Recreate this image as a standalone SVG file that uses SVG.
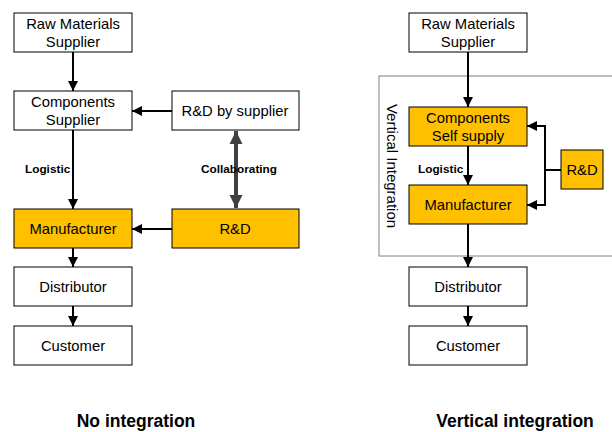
<svg xmlns="http://www.w3.org/2000/svg" width="612" height="432" viewBox="0 0 612 432">
<style>
.box{stroke:#000;stroke-width:1}
.w{fill:#fff}
.o{fill:#FFC000}
text{font-family:"Liberation Sans",Arial,sans-serif;fill:#000}
.t{font-size:14.8px;text-anchor:middle}
.lbl{font-size:11.8px;font-weight:bold}
.title{font-size:17.5px;font-weight:bold;text-anchor:middle}
.c{stroke:#000;stroke-width:2;fill:none}
</style>
<defs>
<marker id="ah" viewBox="0 0 10 10" refX="10" refY="5" markerWidth="10" markerHeight="10" markerUnits="userSpaceOnUse" orient="auto">
<path d="M0,0 L10,5 L0,10 Z" fill="#000"/>
</marker>
<marker id="gh" viewBox="0 0 10 10" refX="10" refY="5" markerWidth="13" markerHeight="14" markerUnits="userSpaceOnUse" orient="auto-start-reverse">
<path d="M0,0 L10,5 L0,10 Z" fill="#404040"/>
</marker>
</defs>

<rect id="vi-frame" x="379" y="76" width="240" height="180" fill="#fff" stroke="#808080" stroke-width="1"/>
<text class="t" transform="translate(387,166) rotate(90)" style="font-size:15px">Vertical Integration</text>

<g id="connectors">
<line class="c" x1="73" y1="52" x2="73" y2="91" marker-end="url(#ah)"/>
<line class="c" x1="73" y1="130" x2="73" y2="209" marker-end="url(#ah)"/>
<line class="c" x1="172" y1="111" x2="132" y2="111" marker-end="url(#ah)"/>
<line class="c" x1="172" y1="229" x2="132" y2="229" marker-end="url(#ah)"/>
<line class="c" x1="73" y1="248" x2="73" y2="267" marker-end="url(#ah)"/>
<line class="c" x1="73" y1="306" x2="73" y2="326" marker-end="url(#ah)"/>
<line x1="236" y1="131" x2="236" y2="208" stroke="#404040" stroke-width="4" marker-start="url(#gh)" marker-end="url(#gh)"/>
<line class="c" x1="468" y1="52" x2="468" y2="107" marker-end="url(#ah)"/>
<line class="c" x1="468" y1="146" x2="468" y2="185" marker-end="url(#ah)"/>
<line class="c" x1="468" y1="224" x2="468" y2="267" marker-end="url(#ah)"/>
<line class="c" x1="468" y1="306" x2="468" y2="326" marker-end="url(#ah)"/>
<line class="c" x1="561" y1="170" x2="545" y2="170"/>
<polyline class="c" points="545,126 545,205"/>
<line class="c" x1="546" y1="126" x2="527" y2="126" marker-end="url(#ah)"/>
<line class="c" x1="546" y1="205" x2="527" y2="205" marker-end="url(#ah)"/>
<text class="lbl" x="25" y="173">Logistic</text>
<text class="lbl" x="201" y="173">Collaborating</text>
<text class="lbl" x="418" y="173">Logistic</text>
</g>

<g id="raw-left"><rect class="box w" x="14" y="13" width="118" height="39"/><text class="t" x="73" y="29">Raw Materials</text><text class="t" x="73" y="47">Supplier</text></g>
<g id="components-left"><rect class="box w" x="14" y="91" width="118" height="39"/><text class="t" x="73" y="107">Components</text><text class="t" x="73" y="125">Supplier</text></g>
<g id="rd-supplier"><rect class="box w" x="172" y="91" width="127" height="39"/><text class="t" x="235" y="116">R&amp;D by supplier</text></g>
<g id="manufacturer-left"><rect class="box o" x="14" y="209" width="118" height="39"/><text class="t" x="73" y="234">Manufacturer</text></g>
<g id="rd-left"><rect class="box o" x="172" y="209" width="127" height="39"/><text class="t" x="235" y="234">R&amp;D</text></g>
<g id="distributor-left"><rect class="box w" x="14" y="267" width="118" height="39"/><text class="t" x="73" y="292">Distributor</text></g>
<g id="customer-left"><rect class="box w" x="14" y="326" width="118" height="39"/><text class="t" x="73" y="351">Customer</text></g>

<g id="raw-right"><rect class="box w" x="409" y="13" width="118" height="39"/><text class="t" x="468" y="29">Raw Materials</text><text class="t" x="468" y="47">Supplier</text></g>
<g id="components-right"><rect class="box o" x="409" y="107" width="118" height="39"/><text class="t" x="468" y="123">Components</text><text class="t" x="468" y="141">Self supply</text></g>
<g id="manufacturer-right"><rect class="box o" x="409" y="185" width="118" height="39"/><text class="t" x="468" y="210">Manufacturer</text></g>
<g id="rd-right"><rect class="box o" x="561" y="150" width="42" height="39"/><text class="t" x="582" y="175">R&amp;D</text></g>
<g id="distributor-right"><rect class="box w" x="409" y="267" width="118" height="39"/><text class="t" x="468" y="292">Distributor</text></g>
<g id="customer-right"><rect class="box w" x="409" y="326" width="118" height="39"/><text class="t" x="468" y="351">Customer</text></g>

<text class="title" x="136" y="427">No integration</text>
<text class="title" x="515" y="427">Vertical integration</text>
</svg>
